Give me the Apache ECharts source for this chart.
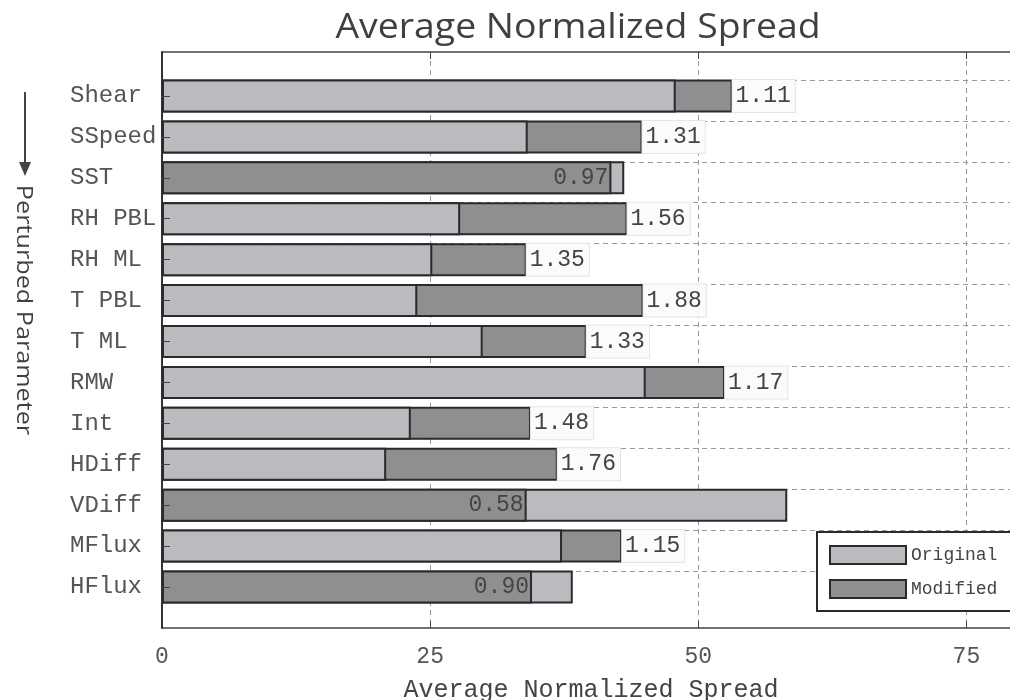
<!DOCTYPE html>
<html>
<head>
<meta charset="utf-8">
<script src="https://cdn.jsdelivr.net/npm/echarts@6/dist/echarts.min.js"></script>
<style>
  html, body { margin: 0; padding: 0; background: #fff; }
  #chart { width: 1010px; height: 700px; }
</style>
</head>
<body>
<div id="chart"></div>
<script>
// Perturbed parameters, top to bottom
const categories = ['Shear', 'SSpeed', 'SST', 'RH PBL', 'RH ML', 'T PBL', 'T ML', 'RMW', 'Int', 'HDiff', 'VDiff', 'MFlux', 'HFlux'];
// Average normalized spread, original runs
const originalSpread = [47.9, 34.1, 43.1, 27.8, 25.2, 23.8, 29.9, 45.1, 23.2, 20.9, 58.3, 37.3, 38.3];
// Average normalized spread, modified runs
const modifiedSpread = [53.2, 44.8, 41.9, 43.4, 34.0, 44.9, 39.6, 52.5, 34.4, 36.9, 34.0, 42.9, 34.5];
// Modified / original ratio shown beside each pair
const ratioLabels = ['1.11', '1.31', '0.97', '1.56', '1.35', '1.88', '1.33', '1.17', '1.48', '1.76', '0.58', '1.15', '0.90'];
// Value axis ticks
const xTicks = [0, 25, 50, 75];

const LIGHT = '#bbbbbf';
const DARK = '#8f8f92';
const EDGE = '#2a2a2a';
const MONO = '"Liberation Mono", "DejaVu Sans Mono", monospace';
const SANS = '"Open Sans", "Noto Sans", sans-serif';
const X_MAX = 80;

const chart = echarts.init(document.getElementById('chart'), null, { renderer: 'canvas' });

// The longer bar of each pair sits behind, the shorter one in front.
const modLonger = modifiedSpread.map((m, i) => m > originalSpread[i]);
const pick = (arr, cond) => arr.map((v, i) => (cond(i) ? v : '-'));

const barBase = {
  type: 'bar',
  xAxisIndex: 0,
  yAxisIndex: 0,
  barWidth: 33,
  barGap: '-100%',
  z: 2,
  itemStyle: { borderColor: EDGE, borderWidth: 2 }
};

const outsideLabel = {
  show: true,
  position: 'right',
  distance: 0,
  fontFamily: MONO,
  fontSize: 23,
  color: '#444',
  backgroundColor: '#fbfbfb',
  borderColor: '#e4e4e4',
  borderWidth: 1,
  padding: [5, 4, 4, 3],
  formatter: p => ratioLabels[p.dataIndex]
};

const insideLabel = {
  show: true,
  position: 'insideRight',
  distance: 3,
  fontFamily: MONO,
  fontSize: 23,
  color: '#444',
  formatter: p => ratioLabels[p.dataIndex]
};

const option = {
  backgroundColor: '#fff',
  animation: false,
  grid: [
    // bar area: category bands
    { left: 162, right: -10, top: 75.5, bottom: 92.5, outerBoundsMode: 'none' },
    // outer frame: box, ticks and grid lines
    { left: 162, right: -10, top: 52, bottom: 72, outerBoundsMode: 'none' }
  ],
  legend: {
    data: ['Original', 'Modified'],
    orient: 'vertical',
    left: 817,
    top: 532,
    itemWidth: 76,
    itemHeight: 18,
    itemGap: 14,
    icon: 'rect',
    padding: [13, 30, 12, 12],
    borderColor: EDGE,
    borderWidth: 2,
    backgroundColor: '#fff',
    z: 10,
    textStyle: { fontFamily: MONO, fontSize: 18, color: '#444' }
  },
  xAxis: [
    {
      type: 'value',
      gridIndex: 0,
      min: 0,
      max: X_MAX,
      show: false
    },
    {
      type: 'value',
      gridIndex: 1,
      min: 0,
      max: X_MAX,
      interval: 25,
      name: 'Average Normalized Spread',
      nameLocation: 'middle',
      nameGap: 50,
      nameTextStyle: { fontFamily: MONO, fontSize: 25, color: '#444' },
      axisLine: { show: true, lineStyle: { color: '#444', width: 1.5 } },
      axisTick: { show: true, inside: true, length: 7, lineStyle: { color: '#444' } },
      axisLabel: {
        fontFamily: MONO, fontSize: 23, color: '#555', margin: 17,
        formatter: v => (xTicks.includes(v) ? String(v) : '')
      },
      splitLine: { show: true, lineStyle: { type: [5, 4], color: '#9a9a9a', width: 1 } }
    },
    {
      type: 'value',
      gridIndex: 1,
      position: 'top',
      min: 0,
      max: X_MAX,
      interval: 25,
      axisLine: { show: true, lineStyle: { color: '#444', width: 1.5 } },
      axisTick: { show: true, inside: true, length: 7, lineStyle: { color: '#444' } },
      axisLabel: { show: false },
      splitLine: { show: false }
    }
  ],
  yAxis: [
    {
      type: 'category',
      gridIndex: 0,
      data: categories,
      inverse: true,
      z: 3,
      axisLine: { show: false },
      axisTick: { show: true, inside: true, alignWithLabel: true, length: 8, lineStyle: { color: '#444' } },
      axisLabel: { align: 'left', margin: 92, fontFamily: MONO, fontSize: 24, color: '#555' },
      splitLine: { show: false }
    },
    {
      type: 'value',
      gridIndex: 1,
      min: 0,
      max: 1,
      z: 3,
      axisLine: { show: true, lineStyle: { color: '#333', width: 2 } },
      axisTick: { show: false },
      axisLabel: { show: false },
      splitLine: { show: false }
    }
  ],
  graphic: [
    {
      type: 'text',
      x: 578,
      y: 28,
      scaleX: 1.1,
      style: {
        text: 'Average Normalized Spread',
        fontFamily: SANS,
        fontSize: 34,
        fill: '#404040',
        align: 'center',
        verticalAlign: 'middle'
      }
    },
    {
      type: 'line',
      shape: { x1: 25, y1: 92, x2: 25, y2: 168 },
      style: { stroke: '#444', lineWidth: 2 }
    },
    {
      type: 'polygon',
      shape: { points: [[19, 162], [31, 162], [25, 176]] },
      style: { fill: '#444' }
    },
    {
      type: 'text',
      x: 23,
      y: 310,
      rotation: -Math.PI / 2,
      scaleX: 1.2,
      style: {
        text: 'Perturbed Parameter',
        fontFamily: SANS,
        fontSize: 21,
        fill: '#404040',
        align: 'center',
        verticalAlign: 'middle'
      }
    }
  ],
  series: [
    // category guide lines, kept beneath the bars
    {
      type: 'bar',
      name: 'guides',
      xAxisIndex: 0,
      yAxisIndex: 0,
      data: [],
      z: 1,
      markLine: {
        silent: true,
        z: 1,
        symbol: 'none',
        label: { show: false },
        lineStyle: { type: [5, 4], color: '#9a9a9a', width: 1 },
        data: categories.map(c => ({ yAxis: c }))
      }
    },
    Object.assign({}, barBase, {
      name: 'Original',
      data: pick(originalSpread, i => !modLonger[i]),
      itemStyle: Object.assign({}, barBase.itemStyle, { color: LIGHT })
    }),
    Object.assign({}, barBase, {
      name: 'Modified',
      data: pick(modifiedSpread, i => modLonger[i]),
      itemStyle: Object.assign({}, barBase.itemStyle, { color: DARK }),
      label: outsideLabel
    }),
    Object.assign({}, barBase, {
      name: 'Original',
      z: 3,
      data: pick(originalSpread, i => modLonger[i]),
      itemStyle: Object.assign({}, barBase.itemStyle, { color: LIGHT })
    }),
    Object.assign({}, barBase, {
      name: 'Modified',
      z: 3,
      data: pick(modifiedSpread, i => !modLonger[i]),
      itemStyle: Object.assign({}, barBase.itemStyle, { color: DARK }),
      label: insideLabel
    })
  ]
};

chart.setOption(option);
</script>
</body>
</html>
